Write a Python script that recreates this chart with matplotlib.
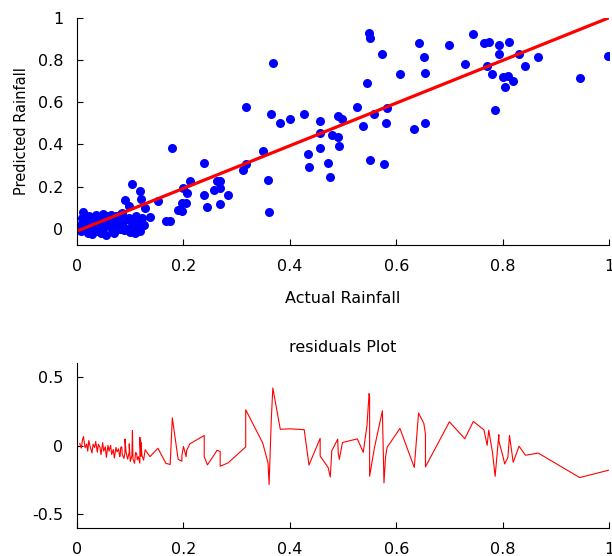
import numpy as np
import matplotlib
matplotlib.use('Agg')
import matplotlib.pyplot as plt

# actual vs predicted rainfall
actual = [
    0.005, 0.008, 0.010, 0.012, 0.015, 0.018, 0.020, 0.022, 0.025, 0.028,
    0.030, 0.033, 0.035, 0.038, 0.040, 0.043, 0.045, 0.048, 0.050, 0.053,
    0.055, 0.058, 0.060, 0.063, 0.065, 0.068, 0.070, 0.073, 0.075, 0.078,
    0.080, 0.081, 0.082, 0.084, 0.085, 0.088, 0.090, 0.092, 0.095, 0.095,
    0.098, 0.100, 0.103, 0.105, 0.108, 0.110, 0.112, 0.113, 0.115, 0.117,
    0.118, 0.120, 0.122, 0.125, 0.128, 0.137,
    0.090, 0.098, 0.120, 0.118, 0.104, 0.152, 0.167, 0.175,
    0.179, 0.190, 0.197, 0.197, 0.200, 0.205, 0.206, 0.212,
    0.239, 0.239, 0.245, 0.257, 0.263, 0.269, 0.269, 0.269, 0.284,
    0.311, 0.317, 0.317, 0.349, 0.359, 0.361, 0.365, 0.368, 0.382,
    0.400, 0.427, 0.434, 0.436, 0.457, 0.457, 0.457, 0.472, 0.476, 0.479,
    0.490, 0.491, 0.493, 0.499, 0.527, 0.538, 0.545, 0.549, 0.550, 0.550,
    0.559, 0.574, 0.577, 0.580, 0.583, 0.607, 0.634, 0.642, 0.652, 0.655,
    0.655, 0.700, 0.729, 0.745, 0.765, 0.771, 0.774, 0.781, 0.786, 0.793,
    0.793, 0.801, 0.804, 0.810, 0.813, 0.820, 0.831, 0.843, 0.867, 0.945,
    0.999,
]
predicted = [
    0.020, -0.010, 0.050, 0.078, 0.000, 0.030, -0.020, 0.060, 0.010, -0.025,
    0.040, 0.020, 0.065, -0.010, 0.050, 0.030, -0.020, 0.070, 0.010, 0.045,
    -0.030, 0.060, 0.020, 0.065, 0.000, 0.040, -0.020, 0.060, 0.030, 0.055,
    0.000, 0.006, 0.070, 0.075, 0.020, -0.005, 0.040, 0.046, 0.000, -0.003,
    0.050, -0.015, 0.030, 0.010, -0.020, 0.060, 0.054, 0.010, 0.035, 0.003,
    -0.010, 0.043, 0.050, 0.020, 0.098, 0.057,
    0.138, 0.111, 0.144, 0.178, 0.213, 0.133, 0.038, 0.038,
    0.381, 0.090, 0.084, 0.125, 0.194, 0.125, 0.171, 0.225,
    0.313, 0.159, 0.105, 0.186, 0.229, 0.227, 0.192, 0.119, 0.159,
    0.281, 0.308, 0.578, 0.368, 0.233, 0.078, 0.543, 0.787, 0.501,
    0.522, 0.543, 0.354, 0.295, 0.510, 0.454, 0.381, 0.313, 0.248, 0.443,
    0.537, 0.437, 0.394, 0.522, 0.576, 0.489, 0.690, 0.927, 0.906, 0.327,
    0.543, 0.827, 0.306, 0.501, 0.571, 0.732, 0.475, 0.879, 0.813, 0.738,
    0.501, 0.873, 0.779, 0.921, 0.879, 0.773, 0.887, 0.732, 0.563, 0.873,
    0.827, 0.718, 0.671, 0.725, 0.887, 0.699, 0.827, 0.773, 0.813, 0.713,
    0.820,
]

# fitted regression line endpoints
fit_x = [0.0, 1.0]
fit_y = [-0.01, 1.0]

actual = np.array(actual)
predicted = np.array(predicted)
order = np.argsort(actual, kind='stable')
resid_x = actual[order]
resid_y = (predicted - actual)[order]

plt.rcParams['font.family'] = ['DejaVu Sans']
plt.rcParams['font.size'] = 11.5

fig = plt.figure(figsize=(6.12, 5.56), dpi=100)

# scatter of actual vs predicted
ax1 = fig.add_axes([0.126, 0.559, 0.869, 0.409])
ax1.plot(actual, predicted, 'o', color='#0000ff', markersize=6.5, markeredgewidth=0)
ax1.plot(fit_x, fit_y, color='#ff0000', linewidth=2.3)
ax1.set_xlim(0, 1)
ax1.set_ylim(-0.077, 1.0)
ax1.set_xticks([0, 0.2, 0.4, 0.6, 0.8, 1])
ax1.set_xticklabels(['0', '0.2', '0.4', '0.6', '0.8', '1'])
ax1.set_yticks([0, 0.2, 0.4, 0.6, 0.8, 1])
ax1.set_yticklabels(['0', '0.2', '0.4', '0.6', '0.8', '1'])
ax1.set_xlabel('Actual Rainfall', labelpad=12)
ax1.set_ylabel('Predicted Rainfall', fontsize=10.5, labelpad=6)

# residuals
ax2 = fig.add_axes([0.126, 0.050, 0.869, 0.297])
ax2.plot(resid_x, resid_y, color='#ff0000', linewidth=0.8)
ax2.set_xlim(0, 1)
ax2.set_ylim(-0.6, 0.6)
ax2.set_xticks([0, 0.2, 0.4, 0.6, 0.8, 1])
ax2.set_xticklabels(['0', '0.2', '0.4', '0.6', '0.8', '1'])
ax2.set_yticks([-0.5, 0, 0.5])
ax2.set_yticklabels(['-0.5', '0', '0.5'])
ax2.set_title('residuals Plot', fontsize=11.5, pad=8)

for ax in (ax1, ax2):
    ax.spines['top'].set_visible(False)
    ax.spines['right'].set_visible(False)
    ax.spines['left'].set_linewidth(0.8)
    ax.spines['bottom'].set_linewidth(0.8)
    ax.tick_params(direction='in', length=4, width=0.8, pad=10)

fig.savefig('out.png', dpi=100)
